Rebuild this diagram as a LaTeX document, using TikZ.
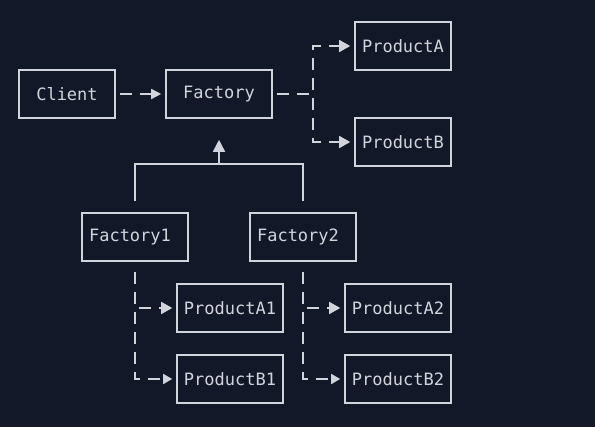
\documentclass[tikz,border=0pt]{standalone}
\usepackage{fontspec}
\setmonofont{DejaVu Sans Mono}
\usetikzlibrary{arrows.meta}
\definecolor{bgc}{HTML}{111827}
\definecolor{fgc}{HTML}{D1D5DB}
\tikzset{
  box/.style={draw=fgc, line width=1.6pt, inner sep=0pt, minimum height=48pt,
    text=fgc, font=\ttfamily\fontsize{17}{20}\selectfont},
  wbox/.style={box, minimum width=106pt},
  nbox/.style={box, minimum width=96pt},
  dline/.style={draw=fgc, line width=1.6pt, dash pattern=on 12pt off 8pt,
    shorten <=4pt, shorten >=4pt, -{Triangle[length=11pt,width=12pt]}},
  sline/.style={draw=fgc, line width=1.6pt}
}
\begin{document}
\begin{tikzpicture}[x=1pt,y=-1pt]
\useasboundingbox (0,0) rectangle (595,427);
\fill[bgc] (0,0) rectangle (595,427);
\node[nbox] (client) at (67,94) {Client};
\node[wbox] (fac) at (219,94) {Factory};
\node[nbox] (pa) at (403,46) {ProductA};
\node[nbox] (pb) at (403,142) {ProductB};
\node[wbox] (f1) at (135,237) {Factory1\hspace*{10pt}};
\node[wbox] (f2) at (303,237) {Factory2\hspace*{10pt}};
\node[wbox] (pa1) at (230,308) {ProductA1};
\node[wbox] (pb1) at (230,379) {ProductB1};
\node[wbox] (pa2) at (398,308) {ProductA2};
\node[wbox] (pb2) at (398,379) {ProductB2};
\coordinate (fj) at (313,94);
\coordinate (ij) at (219,164);
% client -> factory
\draw[dline, -{Triangle[length=10pt,width=10pt]}] (client) -- (fac);
% factory -> products
\draw[dline] (fac.east) -- (fj) |- (pa.west);
\draw[dline] (fac.east) -- (fj) |- (pb.west);
% inheritance
\draw[sline, shorten <=11pt] (f1.north) |- (ij);
\draw[sline, shorten <=11pt] (f2.north) |- (ij);
\draw[sline, shorten >=21pt, -{Triangle[length=12pt,width=12pt]}] (ij) -- (fac.south);
% factory1 products
\draw[dline, shorten <=10pt] (f1.south) |- (pa1.west);
\draw[dline, shorten <=10pt, -{Triangle[length=9pt,width=10pt]}] (f1.south) |- (pb1.west);
\draw[dline, shorten <=10pt] (f2.south) |- (pa2.west);
\draw[dline, shorten <=10pt, -{Triangle[length=9pt,width=10pt]}] (f2.south) |- (pb2.west);
\end{tikzpicture}
\end{document}
